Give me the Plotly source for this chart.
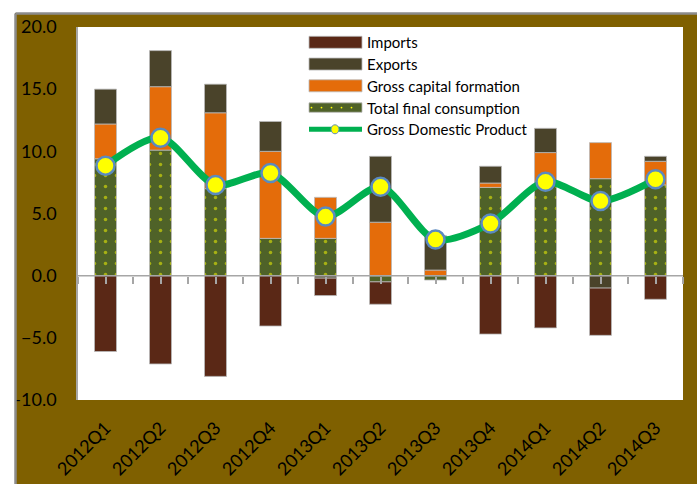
import plotly.graph_objects as go

# Quarterly contributions to GDP growth (percentage points)
quarters = ["2012Q1", "2012Q2", "2012Q3", "2012Q4", "2013Q1", "2013Q2",
            "2013Q3", "2013Q4", "2014Q1", "2014Q2", "2014Q3"]
consumption = [9.4, 10.1, 7.0, 3.0, 3.0, -0.5, -0.35, 7.1, 7.6, 7.8, 7.3]
capital_formation = [2.8, 5.1, 6.1, 7.0, 3.3, 4.3, 0.45, 0.35, 2.3, 2.9, 1.9]
exports = [2.8, 2.9, 2.3, 2.4, -0.2, 5.3, 2.75, 1.35, 1.95, -1.0, 0.4]
imports = [-6.1, -7.1, -8.1, -4.05, -1.4, -1.8, 0.0, -4.7, -4.2, -3.8, -1.9]
gdp = [8.85, 11.1, 7.3, 8.25, 4.75, 7.15, 2.9, 4.2, 7.55, 6.0, 7.75]

y_ticks = [-10, -5, 0, 5, 10, 15, 20]

C_IMP = "#5A2816"
C_EXP = "#4A432A"
C_GCF = "#E46C0A"
C_TFC = "#4F6228"
C_DOT = "#FFFF00"
C_GDP = "#00B050"
C_MARK_LINE = "#5B8AC0"
C_FRAME = "#7F6000"

W, H = 697, 484
L, R, T, B = 78, 683, 27, 400
FONT = "Lato, Liberation Sans, Arial, sans-serif"


def px(x):
    return (x - L) / (R - L)


def py(y):
    return (B - y) / (B - T)


edge = dict(color="rgba(185,185,185,0.8)", width=1)

fig = go.Figure()
fig.add_trace(go.Bar(
    x=quarters, y=consumption, name="Total final consumption",
    marker=dict(color=C_TFC, line=edge,
                pattern=dict(shape=".", fgcolor=C_DOT, bgcolor=C_TFC,
                             size=11, solidity=0.08, fillmode="overlay")),
    width=0.4, showlegend=False))
fig.add_trace(go.Bar(x=quarters, y=capital_formation, name="Gross capital formation",
                     marker=dict(color=C_GCF, line=edge), width=0.4, showlegend=False))
fig.add_trace(go.Bar(x=quarters, y=exports, name="Exports",
                     marker=dict(color=C_EXP, line=edge), width=0.4, showlegend=False))
fig.add_trace(go.Bar(x=quarters, y=imports, name="Imports",
                     marker=dict(color=C_IMP, line=edge), width=0.4, showlegend=False))
fig.add_trace(go.Scatter(
    x=quarters, y=gdp, name="Gross Domestic Product", mode="lines+markers",
    line=dict(color=C_GDP, width=7, shape="spline", smoothing=0.8),
    marker=dict(color=C_DOT, size=18, line=dict(color=C_MARK_LINE, width=2.5)),
    showlegend=False))

# zero line carrying half-category tick marks
n = len(quarters)
fig.add_trace(go.Scatter(x=[-0.5, n - 0.5], y=[0, 0], xaxis="x2", mode="lines",
                         line=dict(color="#A6A6A6", width=1.5),
                         hoverinfo="skip", showlegend=False))

shapes = []
annotations = []

# outer frame: white margin strip with a grey rule, olive panel below
shapes.append(dict(type="rect", xref="paper", yref="paper", layer="above",
                   x0=px(-10), x1=px(W + 10), y0=py(13), y1=py(-10),
                   fillcolor="white", line=dict(width=0)))
shapes.append(dict(type="rect", xref="paper", yref="paper", layer="above",
                   x0=px(-10), x1=px(15), y0=py(H + 10), y1=py(-10),
                   fillcolor="white", line=dict(width=0)))
shapes.append(dict(type="line", xref="paper", yref="paper", layer="above",
                   x0=px(15.5), x1=px(W + 10), y0=py(13.5), y1=py(13.5),
                   line=dict(color="#8C8C8C", width=2.5)))
shapes.append(dict(type="line", xref="paper", yref="paper", layer="above",
                   x0=px(15.5), x1=px(15.5), y0=py(13.5), y1=py(H + 10),
                   line=dict(color="#8C8C8C", width=2.5)))

# legend
legend_items = [
    ("Imports", C_IMP, "bar"),
    ("Exports", C_EXP, "bar"),
    ("Gross capital formation", C_GCF, "bar"),
    ("Total final consumption", C_TFC, "dots"),
    ("Gross Domestic Product", C_GDP, "line"),
]
lx0, lx1, ltx = 309, 362, 365
row0, row_gap = 42.3, 21.75
for i, (label, color, kind) in enumerate(legend_items):
    cy = row0 + i * row_gap
    if kind == "line":
        shapes.append(dict(type="line", xref="paper", yref="paper",
                           x0=px(lx0), x1=px(lx1), y0=py(cy), y1=py(cy),
                           line=dict(color=color, width=5)))
        shapes.append(dict(type="circle", xref="paper", yref="paper",
                           x0=px(331), x1=px(339), y0=py(cy + 4.5), y1=py(cy - 4.5),
                           fillcolor=C_DOT, line=dict(color=C_MARK_LINE, width=1)))
    else:
        hh = 6 if kind == "bar" else 4.7
        shapes.append(dict(type="rect", xref="paper", yref="paper",
                           x0=px(lx0), x1=px(lx1), y0=py(cy + hh), y1=py(cy - hh),
                           fillcolor=color, line=dict(color="rgba(185,185,185,0.8)", width=1)))
        if kind == "dots":
            for k in range(5):
                dx = lx0 + 2.5 + k * 10
                shapes.append(dict(type="circle", xref="paper", yref="paper",
                                   x0=px(dx - 0.9), x1=px(dx + 0.9),
                                   y0=py(cy + 0.9), y1=py(cy - 0.9),
                                   fillcolor=C_DOT, line=dict(width=0)))
    annotations.append(dict(xref="paper", yref="paper", x=px(ltx), y=py(cy),
                            xanchor="left", yanchor="middle", showarrow=False,
                            text=label, font=dict(family=FONT, size=15, color="black")))

fig.update_layout(
    width=W, height=H,
    margin=dict(l=L, r=W - R, t=T, b=H - B),
    paper_bgcolor=C_FRAME, plot_bgcolor="white",
    barmode="relative", bargap=0.6,
    font=dict(family=FONT, color="black"),
    showlegend=False,
    shapes=shapes, annotations=annotations,
    xaxis=dict(type="category", range=[-0.5, n - 0.5], showgrid=False,
               showline=False, zeroline=False, ticks="", tickangle=-45,
               ticklabelstandoff=13, automargin=False,
               tickfont=dict(family=FONT, size=18, color="black")),
    xaxis2=dict(overlaying="x", anchor="free", position=1 / 3,
                range=[-0.5, n - 0.5], showgrid=False, zeroline=False,
                showline=False, showticklabels=False, ticks="outside",
                ticklen=7, tickwidth=1.5, tickcolor="#A6A6A6",
                tickmode="linear", tick0=-0.5, dtick=0.5, automargin=False),
    yaxis=dict(range=[-10, 20], tickvals=y_ticks, tickformat=".1f",
               showgrid=False, zeroline=False, showline=True,
               linecolor="#A6A6A6", linewidth=1.5, ticks="",
               ticklabelstandoff=16, automargin=False,
               tickfont=dict(family=FONT, size=18, color="black")),
)

fig.write_html("out.html")
